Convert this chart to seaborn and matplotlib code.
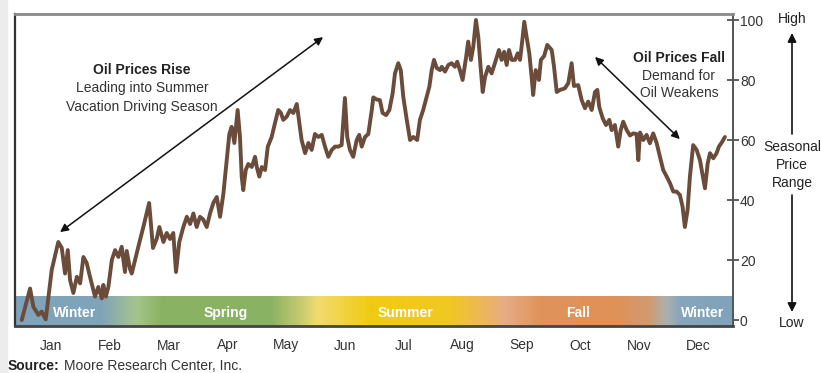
import numpy as np
import pandas as pd
import matplotlib
matplotlib.use("Agg")
import matplotlib.pyplot as plt
from matplotlib.colors import LinearSegmentedColormap
from matplotlib.patches import FancyArrowPatch, Rectangle
import seaborn as sns

# Day of year and seasonal price index (0 = annual low, 100 = annual high)
days = [
    0, 4.3, 6.0, 8.6, 10.3, 12.4, 15.5, 18.9, 20.7, 22.4, 23.8, 25.0, 26.7, 28.5,
    30.2, 31.9, 33.6, 35.3, 37.9, 39.6, 41.4, 42.2, 43.5, 44.8, 46.6, 48.3, 50.0,
    51.7, 53.4, 54.3, 56.0, 56.9, 58.6, 60.3, 62.9, 65.9, 67.9, 69.8, 71.2, 73.3,
    75.0, 76.7, 78.4, 79.8, 81.5, 83.6, 85.4, 87.1, 88.8, 90.5, 92.2, 93.9, 95.7,
    97.4, 99.1, 100.9, 102.6, 104.3, 106.0, 107.4, 108.6, 110.0, 111.7, 112.9,
    113.8, 114.6, 115.9, 117.2, 119.0, 120.7, 121.6, 122.9, 124.2, 125.9, 127.3,
    129.3, 131.0, 132.7, 134.1, 135.3, 137.1, 138.8, 140.5, 142.3, 143.4, 144.8,
    146.6, 148.3, 150.0, 151.7, 153.4, 155.2, 156.9, 158.6, 160.4, 162.1, 163.8,
    165.5, 166.4, 167.2, 168.4, 169.8, 171.5, 173.3, 174.6, 175.9, 177.6, 179.3,
    181.1, 181.9, 183.6, 185.3, 186.7, 188.5, 190.2, 191.9, 193.1, 194.8, 196.1,
    197.4, 199.2, 200.9, 202.6, 204.6, 206.0, 207.7, 209.5, 210.9, 212.1, 213.3,
    214.7, 216.4, 217.3, 219.0, 220.7, 222.4, 224.1, 225.3, 226.7, 228.1, 229.7,
    231.0, 232.4, 233.6, 235.0, 236.2, 237.4, 238.5, 239.7, 241.4, 243.1, 244.8,
    246.9, 248.3, 249.6, 250.9, 252.1, 253.5, 255.2, 256.6, 257.8, 259.0, 260.0,
    261.2, 262.6, 263.8, 264.6, 265.9, 267.6, 268.6, 270.3, 271.9, 274.2, 275.4,
    276.8, 278.5, 281.0, 282.8, 284.5, 285.7, 287.9, 289.7, 291.4, 293.1, 294.9,
    296.6, 297.8, 298.8, 300.6, 302.3, 304.0, 305.2, 306.9, 308.6, 309.9, 311.2,
    313.0, 314.7, 316.4, 318.1, 319.0, 319.9, 321.6, 323.3, 325.0, 326.7, 328.5,
    330.2, 331.9, 333.7, 335.4, 337.1, 338.8, 340.5, 341.9, 343.1, 344.5, 345.7,
    347.4, 349.2, 350.9, 352.3, 353.5, 354.9, 356.1, 357.8, 359.5, 360.7, 362.4,
    363.8,
]
price_index = [
    0, 10.5, 4.4, 1.7, 2.8, 0.2, 16.7, 26, 24, 15.5, 23.3, 13.3, 9, 14.4,
    12.2, 21, 19, 14.4, 7.8, 11, 7.2, 11.7, 7.8, 11, 20, 23.3, 21,
    24.4, 16, 23, 17, 15.5, 20, 24.4, 31, 39, 24, 27, 31, 26,
    29, 27, 29, 16, 26, 31, 34.4, 32, 35.5, 31, 34.4, 33.5, 31,
    35.5, 39, 41, 34.4, 42, 53, 62, 64.4, 59, 70, 61,
    47.8, 43.3, 50, 52, 51, 54.4, 51, 47.8, 51, 50, 57.8,
    61, 65.6, 70, 69, 66.7, 67.8, 70, 69, 72, 66.7, 60,
    55.6, 59, 56.7, 62, 61, 61.7, 57.8, 54.4, 56.7, 57.8, 57.8,
    58.3, 66.7, 74, 61, 56.7, 54.4, 60, 61.7, 57.8, 61, 62,
    70, 74.2, 73.5, 73.3, 69, 68.3, 70, 75.6, 82.2, 85.6, 83.3,
    74.4, 66.7, 60, 61, 60, 66.7, 70, 74.4, 77.8, 83.3, 86.7,
    84, 83.3, 84.4, 82.8, 85, 85.6, 84.4, 86.1, 83.3, 80, 86.7,
    92.8, 86.7, 91, 100, 94.4, 84.4, 76, 81, 84.4, 82.2, 85.6,
    90, 86.7, 89.4, 85, 90, 86.7, 86.7, 88.9, 86.7, 93.3, 99.4,
    94.4, 88.9, 81, 75, 83.3, 80, 86.7, 88, 91.7, 90, 84.4,
    76, 76.7, 77.2, 79, 85.6, 78, 78.3, 73.3, 70.6, 72.8, 70,
    76, 76.7, 71, 67.2, 65, 66.7, 63.3, 65, 57.8, 63.3, 66.1,
    63.3, 61.5, 62.2, 62, 53.3, 62.5, 60, 61.7, 58.9, 62.2, 59,
    54.4, 50, 47.8, 45.6, 42.8, 42.8, 41.7, 37.8, 31, 36.7, 47.8,
    58.3, 56.7, 53.3, 48.3, 43.9, 52.2, 55.6, 53.9, 55.6, 57.8, 59.4,
    61,
]

months = ["Jan", "Feb", "Mar", "Apr", "May", "Jun",
          "Jul", "Aug", "Sep", "Oct", "Nov", "Dec"]
y_ticks = [0, 20, 40, 60, 80, 100]
seasons = ["Winter", "Spring", "Summer", "Fall", "Winter"]
season_days = [27.6, 105.7, 198.3, 287.8, 352.4]

df = pd.DataFrame({"day": days, "index": price_index})

sns.set_theme(style="white")
FONT = ["Liberation Sans Narrow", "Liberation Sans", "DejaVu Sans"]
plt.rcParams["font.family"] = FONT

W, H = 822, 373
fig = plt.figure(figsize=(W / 100, H / 100), dpi=100)
fig.patch.set_facecolor("white")

# light gray margin strip on the left edge
fig.patches.append(Rectangle((0, 0), 7 / W, 1, transform=fig.transFigure,
                             color="#ececec", zorder=0))

ax = fig.add_axes([15 / W, 1 - 326 / H, (733 - 15) / W, (326 - 14) / H])
XMIN, XMAX = -3.5, 368.0
YMIN, YMAX = -2, 102
ax.set_xlim(XMIN, XMAX)
ax.set_ylim(YMIN, YMAX)

# seasonal colour band along the bottom
stops = [
    (-3.5, "#7fa3bb"), (40.5, "#80a4b9"), (58.6, "#a5c58b"), (71.6, "#8ab263"),
    (128.5, "#8ab263"), (144.0, "#c6cb72"), (153.0, "#f2db6c"), (180.0, "#f0cb12"),
    (221.6, "#f0c823"), (242.0, "#ebb466"), (250.0, "#e6ad86"), (268.0, "#e0935a"),
    (309.0, "#df9158"), (325.0, "#d09b72"), (334.0, "#aab0b0"), (341.0, "#87a6bc"),
    (368.0, "#7fa3bb"),
]
span = XMAX - XMIN
cmap = LinearSegmentedColormap.from_list(
    "seasons", [((d - XMIN) / span, c) for d, c in stops])
grad = np.linspace(0, 1, 800).reshape(1, -1)
ax.imshow(grad, cmap=cmap, aspect="auto", extent=[XMIN, XMAX, YMIN, 7.7],
          zorder=1, interpolation="bilinear")

for name, d in zip(seasons, season_days):
    ax.text(d, 2.4, name, color="white", fontsize=10, fontweight="bold",
            ha="center", va="center", zorder=2)

sns.lineplot(data=df, x="day", y="index", ax=ax, color="#6b4c3b",
             linewidth=2.8, estimator=None, sort=False, zorder=3)

ax.set_xlabel("")
ax.set_ylabel("")
ax.set_xticks([(i + 0.5) * 30.42 for i in range(12)])
ax.set_xticklabels(months)
ax.tick_params(axis="x", length=0, pad=9, labelsize=10, labelcolor="#333333")
ax.yaxis.tick_right()
ax.set_yticks(y_ticks)
ax.set_yticklabels([str(t) for t in y_ticks])
ax.tick_params(axis="y", direction="inout", length=8, width=1.2,
               color="#444444", pad=1, labelsize=10, labelcolor="#333333")

for side, col, lw in [("left", "#333333", 1.6), ("bottom", "#444444", 2.0),
                      ("top", "#8a8a8a", 2.0), ("right", "#555555", 1.4)]:
    ax.spines[side].set_visible(True)
    ax.spines[side].set_color(col)
    ax.spines[side].set_linewidth(lw)

# trend arrows
arrow = dict(arrowstyle="<|-|>", color="#111111", lw=1.1,
             mutation_scale=12, shrinkA=0, shrinkB=0)
ax.annotate("", xy=(155.9, 94.3), xytext=(19.8, 29.3), arrowprops=arrow, zorder=4)
ax.annotate("", xy=(296.6, 87.7), xytext=(340.5, 60.3), arrowprops=arrow, zorder=4)

NOTE = 10
ax.text(62.3, 83.5, "Oil Prices Rise", fontsize=NOTE, fontweight="bold",
        ha="center", va="center", color="#222222")
ax.text(62.3, 77.2, "Leading into Summer", fontsize=NOTE,
        ha="center", va="center", color="#333333")
ax.text(62.3, 71.0, "Vacation Driving Season", fontsize=NOTE,
        ha="center", va="center", color="#333333")

ax.text(340.0, 87.5, "Oil Prices Fall", fontsize=NOTE, fontweight="bold",
        ha="center", va="center", color="#222222")
ax.text(340.0, 81.5, "Demand for", fontsize=NOTE,
        ha="center", va="center", color="#333333")
ax.text(340.0, 75.8, "Oil Weakens", fontsize=NOTE,
        ha="center", va="center", color="#333333")

# seasonal price range scale on the right
def fy(py):
    return 1 - py / H

xr = 792 / W
for label, py in [("High", 19), ("Seasonal", 147), ("Price", 165),
                  ("Range", 183), ("Low", 323)]:
    fig.text(xr, fy(py), label, fontsize=10, ha="center", va="center",
             color="#222222")
sarrow = dict(arrowstyle="-|>", color="#111111", lw=1.2, mutation_scale=13,
              shrinkA=0, shrinkB=0)
fig.add_artist(FancyArrowPatch((xr, fy(134)), (xr, fy(33)),
                               transform=fig.transFigure, **sarrow))
fig.add_artist(FancyArrowPatch((xr, fy(195)), (xr, fy(312)),
                               transform=fig.transFigure, **sarrow))

src = fig.text(8 / W, fy(366), "Source:", fontsize=10, fontweight="bold",
               ha="left", va="center", color="#222222")
fig.canvas.draw()
bb = src.get_window_extent()
fig.text((bb.x1 + 4) / W, fy(366), "Moore Research Center, Inc.", fontsize=10,
         ha="left", va="center", color="#333333")

fig.savefig("out.png", dpi=100, facecolor="white")
